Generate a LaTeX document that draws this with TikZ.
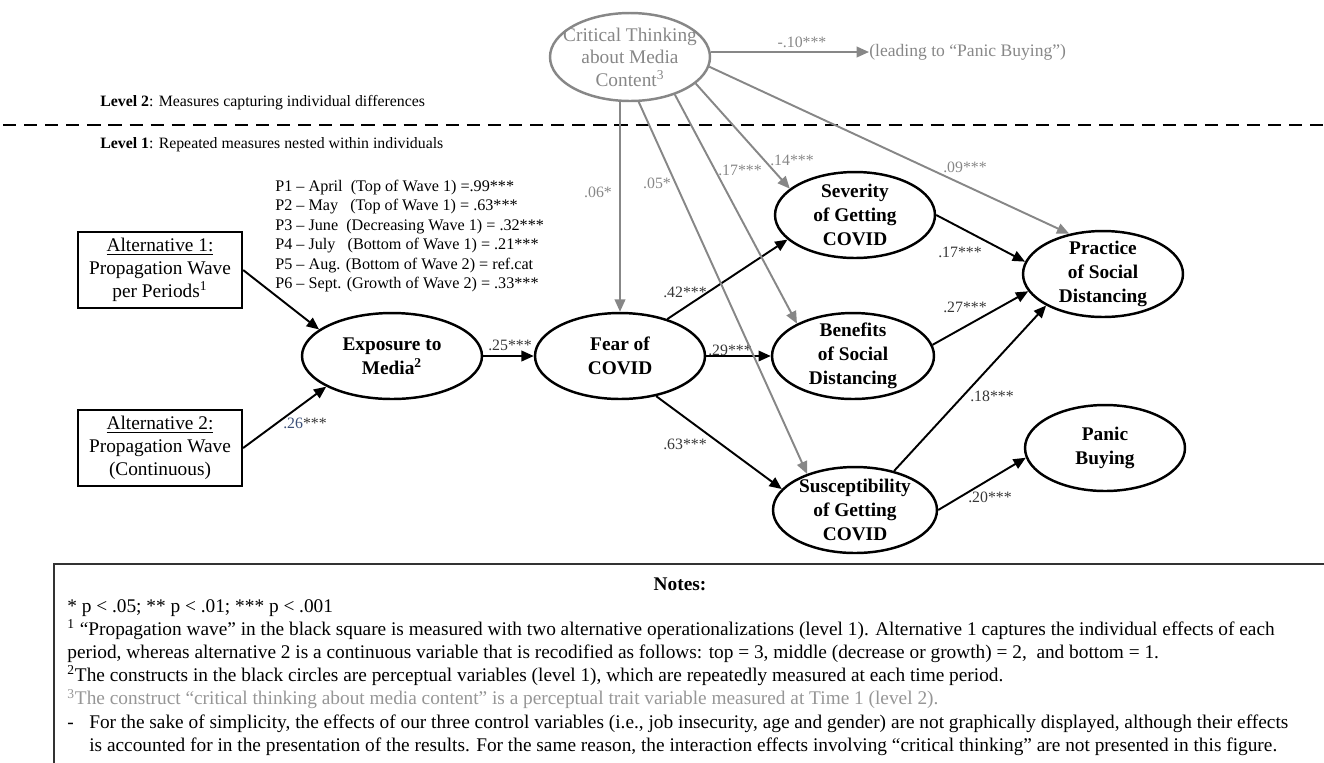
\documentclass[tikz,border=0pt]{standalone}
\usepackage{fontspec}
\setmainfont{Liberation Serif}
\usepackage{xcolor}
\usetikzlibrary{shapes.geometric,arrows.meta}
\definecolor{ctgray}{RGB}{135,135,135}
\definecolor{notegray}{RGB}{150,150,150}
\definecolor{lblgray}{RGB}{55,55,55}
\definecolor{lblblue}{RGB}{60,80,120}

\begin{document}
\begin{tikzpicture}[x=0.02cm, y=0.02cm]
\tikzstyle{every node}+=[inner sep=0pt]
\tikzstyle{cons}=[draw=black, line width=1.4pt, ellipse, minimum width=3.2cm, minimum height=1.72cm]
\tikzstyle{ctext}=[font=\fontsize{11}{13.6}\selectfont\bfseries, align=center]
\tikzstyle{cgtext}=[font=\fontsize{11}{12.8}\selectfont, align=center, text=ctgray]
\tikzstyle{altbox}=[draw=black, line width=1.3pt, minimum width=3.28cm, minimum height=1.53cm, align=center, font=\fontsize{11}{13}\selectfont]
\tikzstyle{blarrow}=[-{Triangle[length=7pt,width=6pt]}, line width=1.1pt, black]
\tikzstyle{grarrow}=[blarrow, color=ctgray]
\tikzstyle{coef}=[font=\fontsize{9}{10}\selectfont, text=lblgray]
\tikzstyle{gcoef}=[coef, text=ctgray]
\tikzstyle{small}=[font=\fontsize{9}{11}\selectfont]
\useasboundingbox (0,0) rectangle (1324,-762);

% levels
\draw [line width=1.2pt, dash pattern=on 7.5pt off 4.5pt] (3,-125) -- (1324,-125);
\node [small, anchor=west] (lvltwo) at (100,-103) {\textbf{Level 2}: Measures capturing individual differences};
\node [small, anchor=west] (lvlone) at (100,-145) {\textbf{Level 1}: Repeated measures nested within individuals};

% constructs
\node [cons, draw=ctgray, minimum height=1.76cm, label={[cgtext]center:Critical Thinking\\about Media\\Content\textsuperscript{3}}] (crit) at (630,-57) {};
\node [cons, minimum width=3.6cm, label={[ctext]center:Exposure to\\Media\textsuperscript{2}}] (expo) at (392,-356) {};
\node [cons, minimum width=3.4cm, label={[ctext]center:Fear of\\COVID}] (fear) at (620,-356) {};
\node [cons, label={[ctext]center:Severity\\of Getting\\COVID}] (sev) at (855,-215) {};
\node [cons, minimum width=3.24cm, label={[ctext]center:Benefits\\of Social\\Distancing}] (bene) at (853,-356) {};
\node [cons, minimum width=3.28cm, label={[ctext]center:Susceptibility\\of Getting\\COVID}] (susc) at (855,-510) {};
\node [cons, label={[ctext]center:Practice\\of Social\\Distancing}] (prac) at (1103,-274) {};
\node [cons, label={[ctext]center:Panic\\Buying}] (panic) at (1105,-448) {};

% propagation wave
\node [altbox] (alt1) at (160,-270) {\underline{Alternative 1:}\\Propagation Wave\\per Periods\textsuperscript{1}};
\node [altbox] (alt2) at (160,-448) {\underline{Alternative 2:}\\Propagation Wave\\(Continuous)};
\node [font=\fontsize{9.2}{11.1}\selectfont, align=left, anchor=west] (plist) at (275,-236) {P1 – April\ \ (Top of Wave 1) =.99***\\
P2 – May\ \ \ (Top of Wave 1) = .63***\\
P3 – June\ \ (Decreasing Wave 1) = .32***\\
P4 – July\ \ \ (Bottom of Wave 1) = .21***\\
P5 – Aug. (Bottom of Wave 2) = ref.cat\\
P6 – Sept. (Growth of Wave 2) = .33***};

% paths level 1
\draw [blarrow] (alt1.east) -- (expo.160);
\draw [blarrow] (alt2.east) -- (expo.205);
\draw [blarrow] (expo.east) -- (fear.west);
\draw [blarrow] (fear.38) -- (sev.200);
\draw [blarrow] (fear.east) -- (bene.west);
\draw [blarrow] (fear.312) -- (susc.164);
\draw [blarrow] (sev.east) -- (prac.171);
\draw [blarrow] (bene.8) -- (prac.193);
\draw [blarrow] (susc.45) -- (prac.209);
\draw [blarrow] (susc.east) -- (panic.187);
\node [coef] (c26) at (305,-423) {\textcolor{lblblue}{.26}***};
\node [coef] (c25) at (510,-345) {.25***};
\node [coef] (c42) at (685,-292) {.42***};
\node [coef] (c29) at (730,-350) {.29***};
\node [coef] (c63) at (685,-444) {.63***};
\node [coef] (c17) at (960,-252) {.17***};
\node [coef] (c27) at (965,-307) {.27***};
\node [coef] (c18) at (992,-396) {.18***};
\node [coef] (c20) at (990,-497) {.20***};

% paths from level 2
\node [font=\fontsize{10}{12}\selectfont, text=ctgray, anchor=west] (lead) at (869,-52) {(leading to “Panic Buying”)};
\draw [grarrow] (crit.east |- lead.west) -- (lead.west);
\draw [grarrow] (crit.south -| fear.north) -- (fear.north);
\draw [grarrow] (crit.281) -- (susc.143);
\draw [grarrow] (crit.320) -- (bene.150);
\draw [grarrow] (crit.338) -- (sev.158);
\draw [grarrow] (crit.353) -- (prac.130);
\node [gcoef] (c10) at (802,-42) {-.10***};
\node [gcoef] (c06) at (598,-192) {.06*};
\node [gcoef] (c05) at (657,-183) {.05*};
\node [gcoef] (c17b) at (740,-170) {.17***};
\node [gcoef] (c14) at (792,-160) {.14***};
\node [gcoef] (c09) at (965,-167) {.09***};

% notes
\draw [line width=0.8pt, draw=black!80] (1330,-564) -- (54,-564) -- (54,-770);
\node [font=\fontsize{11}{13}\selectfont\bfseries] (notes) at (680,-584) {Notes:};
\node [font=\fontsize{11}{13.2}\selectfont, align=left, anchor=north west] (notebody) at (67,-599) {* p < .05; ** p < .01; *** p < .001\\
\textsuperscript{1} “Propagation wave” in the black square is measured with two alternative operationalizations (level 1). Alternative 1 captures the individual effects of each\\
period, whereas alternative 2 is a continuous variable that is recodified as follows: top = 3, middle (decrease or growth) = 2,\ \ and bottom = 1.\\
\textsuperscript{2}The constructs in the black circles are perceptual variables (level 1), which are repeatedly measured at each time period.\\
{\color{notegray}\textsuperscript{3}The construct “critical thinking about media content” is a perceptual trait variable measured at Time 1 (level 2).}\\
\makebox[12.5pt][l]{-}For the sake of simplicity, the effects of our three control variables (i.e., job insecurity, age and gender) are not graphically displayed, although their effects\\
\hspace*{12.5pt}is accounted for in the presentation of the results. For the same reason, the interaction effects involving “critical thinking” are not presented in this figure.};
\end{tikzpicture}
\end{document}
